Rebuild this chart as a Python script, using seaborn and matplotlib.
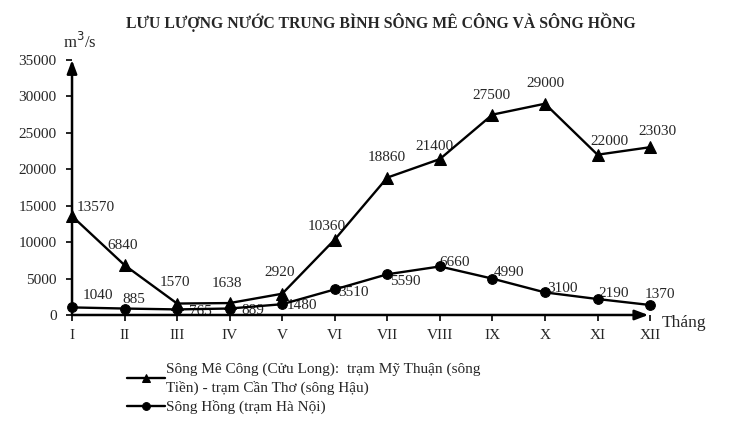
import pandas as pd
import numpy as np
import matplotlib.pyplot as plt
import seaborn as sns

# ============================
# DADOS
# ============================

thang = ['I', 'II', 'III', 'IV', 'V', 'VI', 'VII', 'VIII', 'IX', 'X', 'XI', 'XII']
so_thang = list(range(1, 13))

me_cong = [13570, 6840, 1570, 1638, 2920, 10360, 18860, 21400, 27500, 29000, 22000, 23030]
song_hong = [1040, 885, 765, 889, 1480, 3510, 5590, 6660, 4990, 3100, 2190, 1370]

ten_me_cong = 'Sông Mê Công (Cửu Long):  trạm Mỹ Thuận (sông\nTiền) - trạm Cần Thơ (sông Hậu)'
ten_hong = 'Sông Hồng (trạm Hà Nội)'

# vi tri nhan (offset pixels)
nhan_me_cong = [(5, 9), (-2, 20), (-2, 21), (-3, 20), (-3, 21), (-8, 13),
                (-1, 20), (-5, 13), (-1, 19), (0, 20), (12, 13), (7, 16)]
nhan_hong = [(26, 12), (9, 9), (23, -2), (23, -2), (20, -1), (19, -3),
             (18, -7), (15, 4), (17, 6), (17, 4), (16, 6), (10, 11)]

df = pd.DataFrame({
    'thang': so_thang,
    'me_cong': me_cong,
    'hong': song_hong
})

# ============================
# ESTILO
# ============================

sns.set_style('white')
plt.rcParams['font.family'] = ['Liberation Serif', 'DejaVu Serif']

fig = plt.figure(figsize=(7.29, 4.37), dpi=100)
ax = fig.add_axes([0.0988, 0.2792, 0.7929, 0.5835])

sns.lineplot(
    data=df, x='thang', y='me_cong', ax=ax,
    color='black', linewidth=1.7, marker='^', markersize=8,
    markeredgecolor='black', label=ten_me_cong, clip_on=False, zorder=3
)

sns.lineplot(
    data=df, x='thang', y='hong', ax=ax,
    color='black', linewidth=1.7, marker='o', markersize=7,
    markeredgecolor='black', label=ten_hong, clip_on=False, zorder=3
)

# ============================
# NHAN SO LIEU
# ============================

for i in range(12):
    ax.annotate(
        str(me_cong[i]), (so_thang[i], me_cong[i]),
        xytext=nhan_me_cong[i], textcoords='offset pixels',
        ha='center' if i > 0 else 'left', va='center', fontsize=11, zorder=2
    )
    ax.annotate(
        str(song_hong[i]), (so_thang[i], song_hong[i]),
        xytext=nhan_hong[i], textcoords='offset pixels',
        ha='center', va='center', fontsize=11, zorder=2
    )

# ============================
# EIXOS
# ============================

ax.set_xlim(1, 12)
ax.set_ylim(0, 35000)
ax.set_xticks(so_thang)
ax.set_xticklabels(thang)
ax.set_yticks(np.arange(0, 35001, 5000))
ax.set_xlabel('')
ax.set_ylabel('')

for s in ax.spines.values():
    s.set_visible(False)

ax.tick_params(axis='both', which='both', length=4, width=1.2,
               color='black', labelsize=11, direction='out')
ax.tick_params(axis='y', left=True, pad=7)
ax.tick_params(axis='x', bottom=True, pad=6)

# truc co mui ten
ax.annotate('', xy=(0, 1.0), xytext=(0, 0), xycoords='axes fraction',
            arrowprops=dict(arrowstyle='-|>,head_length=0.8,head_width=0.3',
                            color='black', lw=1.8, shrinkA=0, shrinkB=0))
ax.annotate('', xy=(0.997, 0), xytext=(0, 0), xycoords='axes fraction',
            arrowprops=dict(arrowstyle='-|>,head_length=0.8,head_width=0.3',
                            color='black', lw=1.8, shrinkA=0, shrinkB=0))

fig.text(0.908, 0.262, 'Tháng', fontsize=12.5, ha='left', va='center')
fig.text(0.087, 0.905, 'm$^3$/s', fontsize=12, ha='left', va='center')

fig.text(0.522, 0.95, 'LƯU LƯỢNG NƯỚC TRUNG BÌNH SÔNG MÊ CÔNG VÀ SÔNG HỒNG',
         fontsize=11.3, fontweight='bold', ha='center', va='center')

# ============================
# LEGENDA
# ============================

leg = ax.legend(
    loc='upper left', bbox_to_anchor=(0.155, 0.202),
    bbox_transform=fig.transFigure, frameon=False,
    fontsize=11, handlelength=2.5, handletextpad=0.1,
    labelspacing=0.35, markerscale=0.8
)
leg.get_texts()[0].set_linespacing(1.4)

plt.savefig('out.png', dpi=100)
